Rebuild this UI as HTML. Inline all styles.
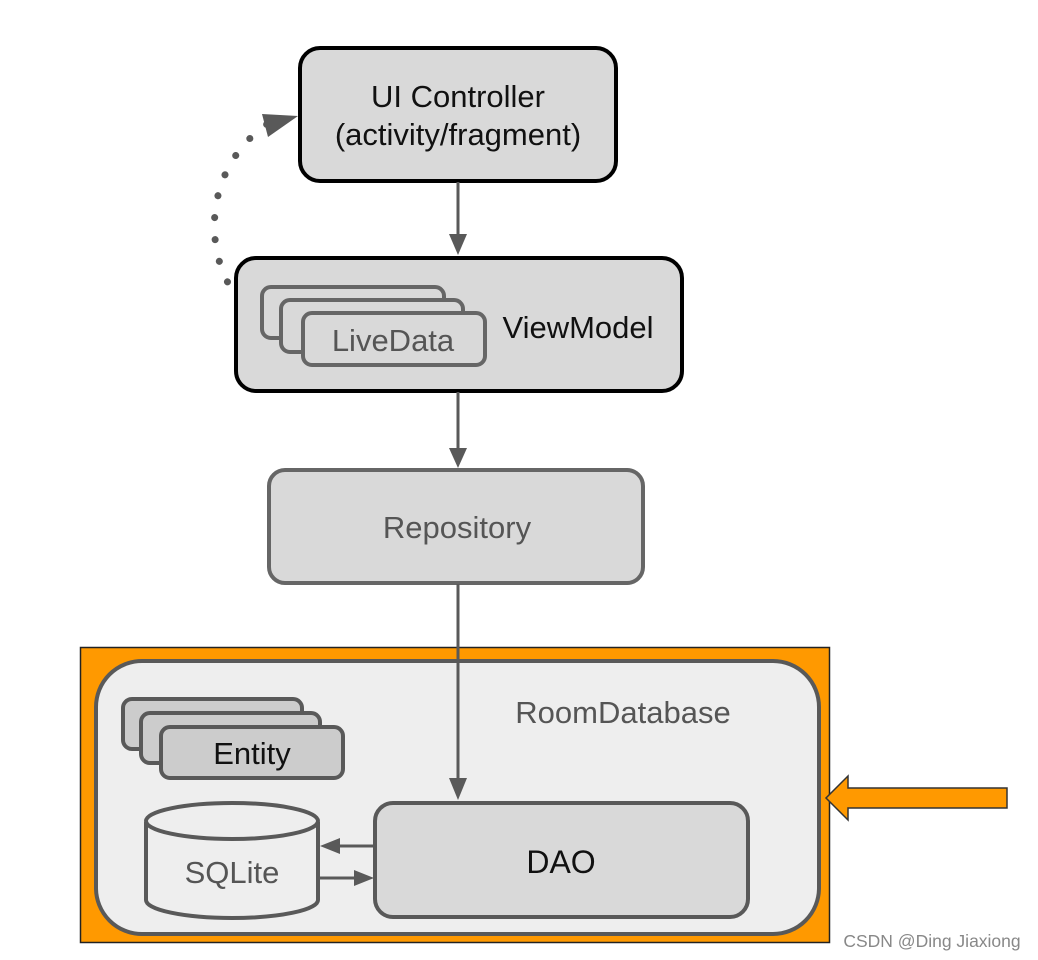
<!DOCTYPE html>
<html><head><meta charset="utf-8"><style>body{margin:0;background:#fff}svg{display:block}text{font-family:"Liberation Sans",sans-serif}</style></head><body>
<svg width="1038" height="960" viewBox="0 0 1038 960" xmlns="http://www.w3.org/2000/svg">
<!-- UI Controller -->
<rect x="300" y="48" width="316" height="133" rx="20" fill="#d9d9d9" stroke="#000" stroke-width="4"/>
<text x="458" y="107" font-size="31" text-anchor="middle" fill="#111">UI Controller</text>
<text x="458" y="145" font-size="31" text-anchor="middle" fill="#111">(activity/fragment)</text>
<line x1="458" y1="182" x2="458" y2="236" stroke="#595959" stroke-width="3"/>
<path d="M449,234 L467,234 L458,255 Z" fill="#595959"/>
<!-- dotted arc -->
<path d="M240,300 C205,262 198,170 270,122" fill="none" stroke="#595959" stroke-width="7" stroke-dasharray="0.1 22" stroke-linecap="round"/>
<path d="M298,116 L262,114 L268,137 Z" fill="#595959"/>
<!-- ViewModel -->
<rect x="236" y="258" width="446" height="133" rx="20" fill="#d9d9d9" stroke="#000" stroke-width="4"/>
<rect x="262" y="287" width="182" height="51" rx="9" fill="#d9d9d9" stroke="#666" stroke-width="4"/>
<rect x="281" y="300" width="182" height="52" rx="9" fill="#d9d9d9" stroke="#666" stroke-width="4"/>
<rect x="303" y="313" width="182" height="52" rx="9" fill="#d9d9d9" stroke="#666" stroke-width="4"/>
<text x="393" y="351" font-size="31" text-anchor="middle" fill="#555">LiveData</text>
<text x="578" y="338" font-size="31" text-anchor="middle" fill="#111">ViewModel</text>
<line x1="458" y1="392" x2="458" y2="450" stroke="#595959" stroke-width="3"/>
<path d="M449,448 L467,448 L458,468 Z" fill="#595959"/>
<!-- Repository -->
<rect x="269" y="470" width="374" height="113" rx="16" fill="#d9d9d9" stroke="#666" stroke-width="4"/>
<text x="457" y="538" font-size="31" text-anchor="middle" fill="#555">Repository</text>
<!-- orange -->
<rect x="80.5" y="647.5" width="749" height="295" fill="#ff9900" stroke="#222" stroke-width="1.5"/>
<rect x="96" y="661" width="723" height="273" rx="46" fill="#eeeeee" stroke="#595959" stroke-width="4"/>
<line x1="458" y1="584" x2="458" y2="780" stroke="#595959" stroke-width="3"/>
<path d="M449,778 L467,778 L458,800 Z" fill="#595959"/>
<text x="623" y="723" font-size="31" text-anchor="middle" fill="#555">RoomDatabase</text>
<!-- Entity -->
<rect x="123" y="699" width="179" height="50" rx="9" fill="#cccccc" stroke="#595959" stroke-width="4"/>
<rect x="141" y="713" width="179" height="50" rx="9" fill="#cccccc" stroke="#595959" stroke-width="4"/>
<rect x="161" y="727" width="182" height="51" rx="9" fill="#cccccc" stroke="#595959" stroke-width="4"/>
<text x="252" y="764" font-size="31" text-anchor="middle" fill="#111">Entity</text>
<!-- SQLite -->
<path d="M146,822 L146,900 A86,18 0 0 0 318,900 L318,822" fill="#eeeeee" stroke="#595959" stroke-width="4"/>
<ellipse cx="232" cy="821" rx="86" ry="18" fill="#eeeeee" stroke="#595959" stroke-width="4"/>
<text x="232" y="883" font-size="31" text-anchor="middle" fill="#555">SQLite</text>
<!-- DAO -->
<rect x="375" y="803" width="373" height="114" rx="18" fill="#d9d9d9" stroke="#595959" stroke-width="4"/>
<text x="561" y="873" font-size="32" text-anchor="middle" fill="#111">DAO</text>
<line x1="375" y1="846" x2="335" y2="846" stroke="#595959" stroke-width="3"/>
<path d="M320,846 L340,838 L340,854 Z" fill="#595959"/>
<line x1="320" y1="878" x2="358" y2="878" stroke="#595959" stroke-width="3"/>
<path d="M374,878 L354,870 L354,886 Z" fill="#595959"/>
<!-- orange arrow -->
<path d="M1007,788 L848,788 L848,776 L826,798 L848,820 L848,808 L1007,808 Z" fill="#ff9900" stroke="#333" stroke-width="1.5"/>
<text x="932" y="947" font-size="17.5" text-anchor="middle" fill="#888">CSDN @Ding Jiaxiong</text>
</svg>
</body></html>
